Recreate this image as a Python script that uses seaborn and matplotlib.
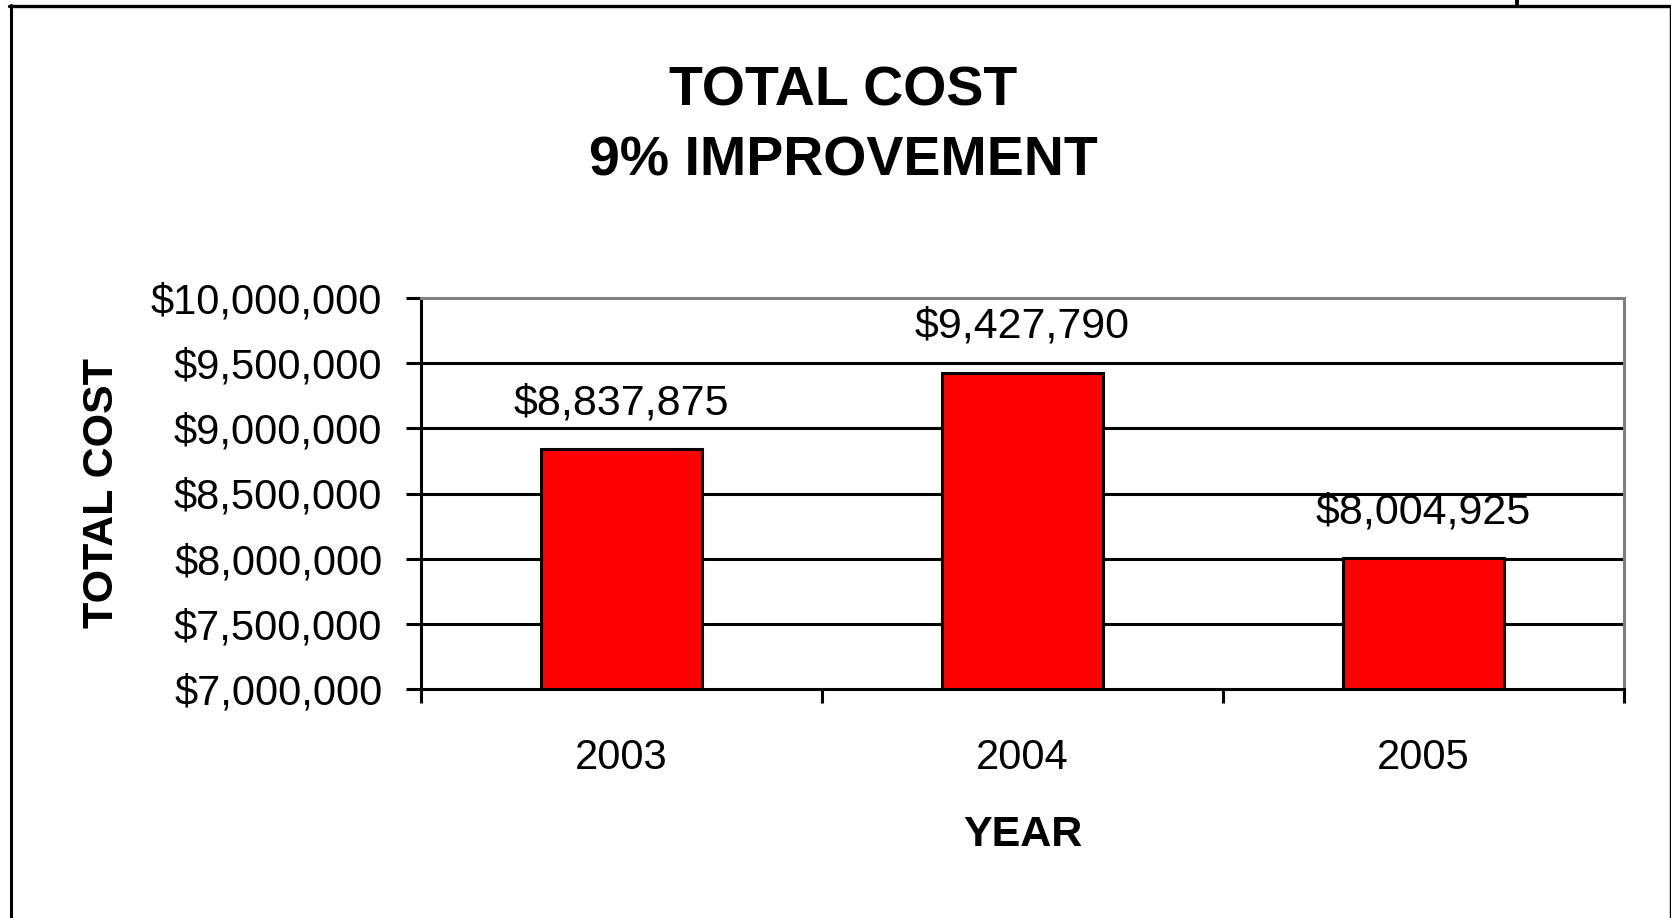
import matplotlib
matplotlib.use("Agg")
import matplotlib.pyplot as plt
from matplotlib import font_manager
from matplotlib.lines import Line2D
import seaborn as sns
import pandas as pd

# Chart data
years = ["2003", "2004", "2005"]
costs = [8837875, 9427790, 8004925]
y_ticks = [7000000, 7500000, 8000000, 8500000, 9000000, 9500000, 10000000]
title_lines = ["TOTAL COST", "9% IMPROVEMENT"]
x_title = "YEAR"
y_title = "TOTAL COST"

sns.set_style("white")
installed = {f.name for f in font_manager.fontManager.ttflist}
narrow = "Liberation Sans Narrow" if "Liberation Sans Narrow" in installed else "Liberation Sans"
plt.rcParams["font.family"] = ["Liberation Sans", "DejaVu Sans"]
plt.rcParams.update({
    "text.color": "black",
    "axes.labelcolor": "black",
    "xtick.color": "black",
    "ytick.color": "black",
})

W, H = 1671, 918
fig = plt.figure(figsize=(W / 100, H / 100), dpi=100)
fig.patch.set_facecolor("white")

# plot area in pixel terms: left 421, right 1624, top 298, bottom 689
ax = fig.add_axes([421 / W, 1 - 689 / H, 1203 / W, 391 / H])
ax.set_facecolor("white")

df = pd.DataFrame({"year": years, "cost": costs})
sns.barplot(data=df, x="year", y="cost", color="#FF0000", saturation=1,
            width=0.4, edgecolor="black", linewidth=2.2, ax=ax, zorder=2)

ax.set_xlim(-0.5, len(years) - 0.5)
ax.set_ylim(y_ticks[0], y_ticks[-1])

# horizontal gridlines between the frame edges
for v in y_ticks[1:-1]:
    ax.axhline(v, color="black", lw=2.2, zorder=1)

for side in ["left", "bottom"]:
    ax.spines[side].set_color("black")
    ax.spines[side].set_linewidth(2.2)
for side in ["top", "right"]:
    ax.spines[side].set_color("#808080")
    ax.spines[side].set_linewidth(2.2)

# y axis
ax.set_yticks(y_ticks)
ax.set_yticklabels([f"${v:,}" for v in y_ticks], fontsize=30, family=narrow,
                   color="black")
ax.tick_params(axis="y", direction="out", length=10.8, width=2.2,
               pad=17, color="black", labelcolor="black", left=True)

# x axis: ticks at category boundaries, labels at category centres
ax.set_xticks([i - 0.5 for i in range(len(years) + 1)])
ax.set_xticklabels([""] * (len(years) + 1))
ax.set_xticks(range(len(years)), minor=True)
ax.set_xticklabels(years, minor=True, fontsize=30, family=narrow,
                   color="black")
ax.tick_params(axis="x", which="major", direction="out", length=10,
               width=2.2, color="black", bottom=True)
ax.tick_params(axis="x", which="minor", length=0, pad=35, bottom=True,
               labelcolor="black")

# axis titles
ax.set_xlabel(x_title, fontsize=31, fontweight="bold", color="black")
ax.xaxis.label.set_va("baseline")
ax.xaxis.set_label_coords(0.5, (689 - 846) / 391)
ax.set_ylabel(y_title, fontsize=31, fontweight="bold", color="black")
ax.yaxis.label.set_va("baseline")
ax.yaxis.set_label_coords((113 - 421) / 1203, 0.5)

# value labels above the bars
for bar, v in zip(ax.containers[0], costs):
    ax.annotate(f"${v:,}", xy=(bar.get_x() + bar.get_width() / 2, v),
                xytext=(0, 25), textcoords="offset points",
                ha="center", va="baseline", fontsize=31, family=narrow,
                color="black")

# two-line chart title
fig.text(843 / W, 1 - 106 / H, title_lines[0], ha="center", va="baseline",
         fontsize=40, fontweight="bold", color="black")
fig.text(843 / W, 1 - 176 / H, title_lines[1], ha="center", va="baseline",
         fontsize=40, fontweight="bold", color="black")

# outer chart frame
fig.add_artist(Line2D([9 / W, 1], [1 - 6 / H, 1 - 6 / H],
                      transform=fig.transFigure, color="black", lw=2.4))
fig.add_artist(Line2D([10.5 / W, 10.5 / W], [0, 1 - 5 / H],
                      transform=fig.transFigure, color="black", lw=2.2))
fig.add_artist(Line2D([1670 / W, 1670 / W], [0, 1 - 6 / H],
                      transform=fig.transFigure, color="black", lw=1.0))
fig.add_artist(Line2D([1517 / W, 1517 / W], [1 - 6 / H, 1],
                      transform=fig.transFigure, color="black", lw=2.8))

fig.savefig("out.png", dpi=100, facecolor="white")
